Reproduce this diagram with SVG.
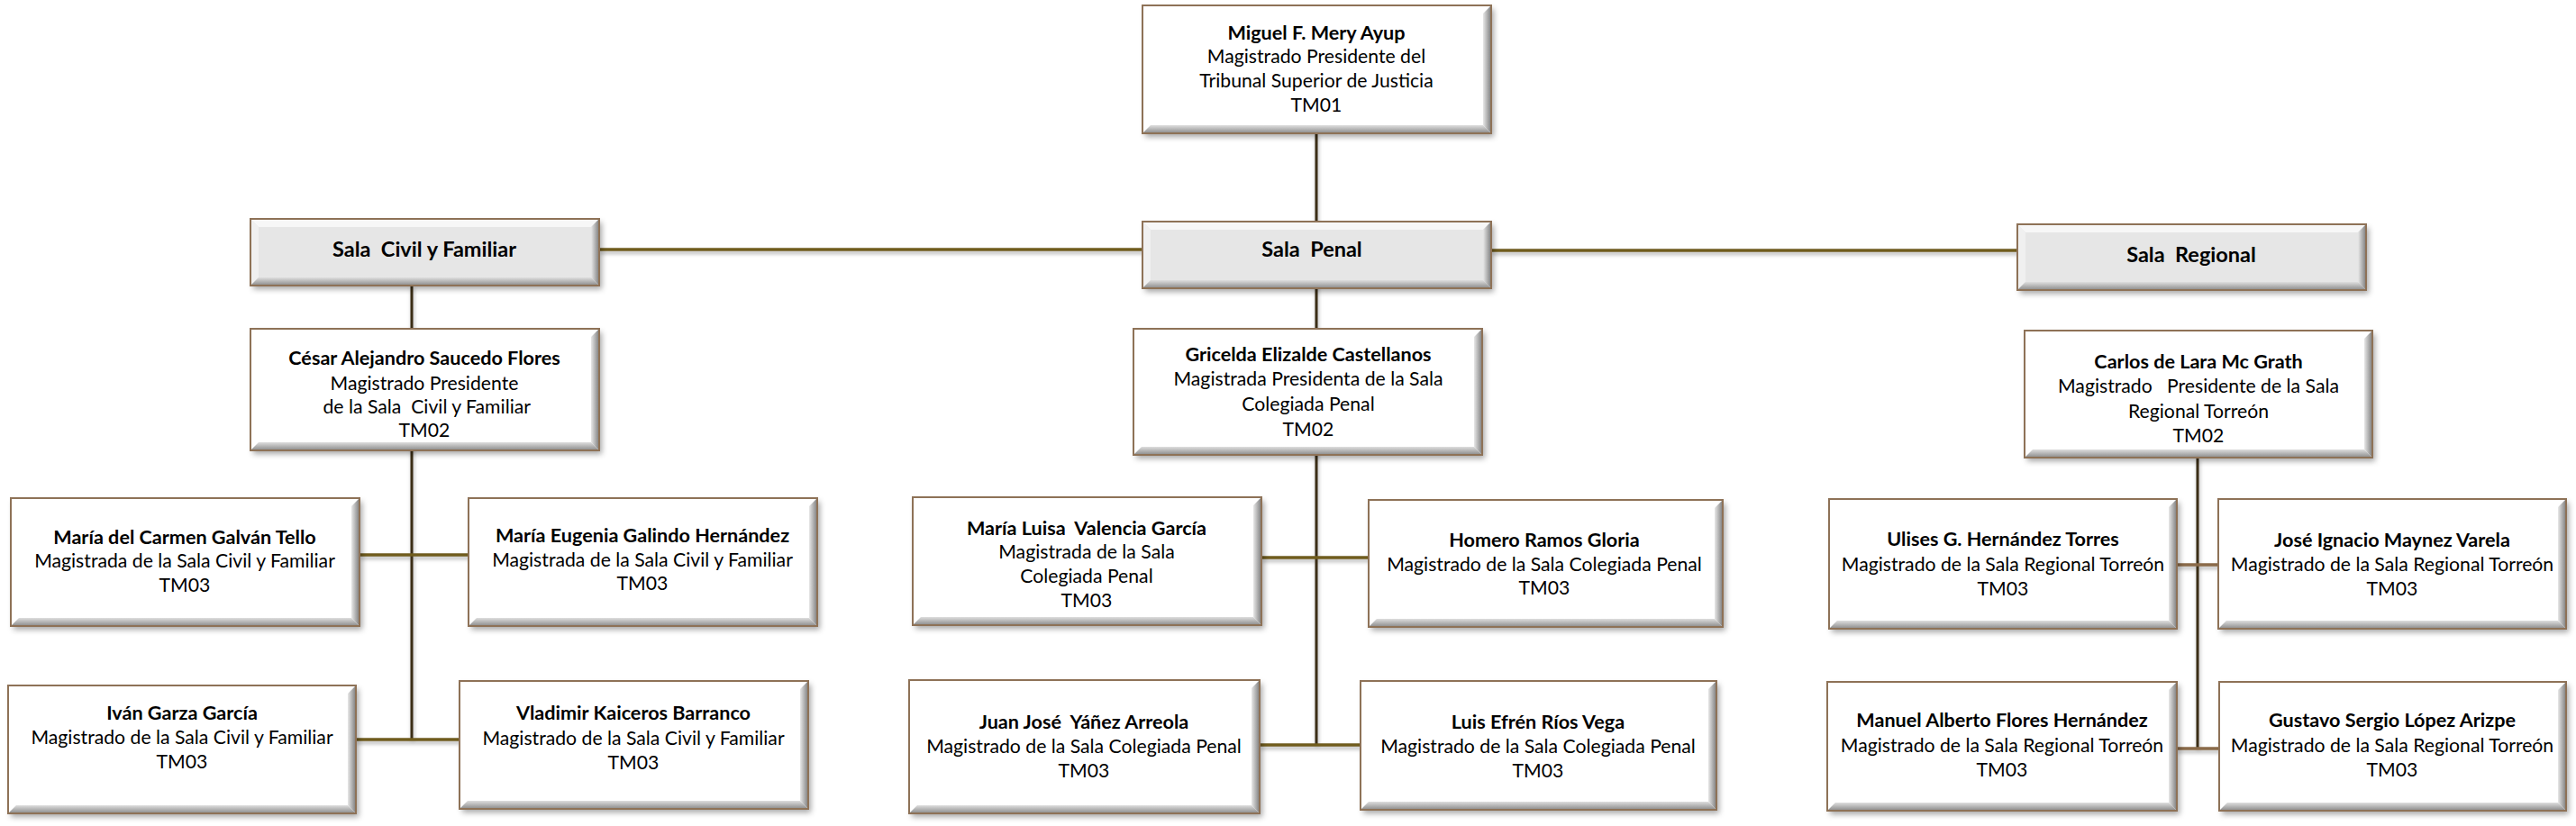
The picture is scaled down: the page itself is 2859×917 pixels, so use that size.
<svg xmlns="http://www.w3.org/2000/svg" width="2859" height="917" viewBox="0 0 2859 917">
<defs>
<filter id="sh" x="-5%" y="-10%" width="115%" height="130%">
<feDropShadow dx="3" dy="4" stdDeviation="3" flood-color="#000" flood-opacity="0.35"/>
</filter>
<filter id="lsh" x="-5%" y="-50%" width="110%" height="200%">
<feDropShadow dx="1" dy="3" stdDeviation="2" flood-color="#000" flood-opacity="0.3"/>
</filter>
<linearGradient id="gr" x1="0" y1="0" x2="1" y2="0">
<stop offset="0" stop-color="#e8e8e8"/><stop offset="1" stop-color="#7d7d7d"/>
</linearGradient>
<linearGradient id="gb" x1="0" y1="0" x2="0" y2="1">
<stop offset="0" stop-color="#dedede"/><stop offset="1" stop-color="#8a8a8a"/>
</linearGradient>
<style>
.bg{fill:#ffffff;filter:url(#sh)}
.sbg{fill:#e6e6e6;filter:url(#sh)}
.edge{fill:none;stroke:#8e7257;stroke-width:2}
.br{fill:url(#gr)}
.bb{fill:url(#gb)}
.bt{fill:#f7f7f7}
.bl{fill:#f0f0f0}
text{font-family:Lato,"Liberation Sans",sans-serif;font-size:21.2px;fill:#000;text-anchor:middle;white-space:pre}
.n{font-weight:700;font-size:21.6px}
.s{font-weight:700;font-size:23.5px}
.v{stroke:#3a2f14;stroke-width:3;fill:none}
.h{stroke:#6f5c1f;stroke-width:3.5;fill:none}
.hr{stroke:#8a6a48;stroke-width:3.5;fill:none}
</style>
</defs>
<rect width="2859" height="917" fill="#ffffff"/>

<g id="connectors">
<g filter="url(#lsh)">
<line class="v" x1="1461" y1="148" x2="1461" y2="827"/>
<line class="h" x1="665" y1="277" x2="1268" y2="277"/>
<line class="h" x1="1655" y1="278" x2="2239" y2="278"/>
<line class="v" x1="457" y1="317" x2="457" y2="821"/>
<line class="h" x1="399" y1="616" x2="520" y2="616"/>
<line class="h" x1="395" y1="821" x2="510" y2="821"/>
<line class="h" x1="1400" y1="619" x2="1519" y2="619"/>
<line class="h" x1="1398" y1="827" x2="1510" y2="827"/>
<line class="v" x1="2439" y1="508" x2="2439" y2="831"/>
<line class="hr" x1="2416" y1="627" x2="2462" y2="627"/>
<line class="hr" x1="2416" y1="831" x2="2463" y2="831"/>
</g>
</g>

<g id="n-top">
<rect class="bg" x="1268" y="6" width="387" height="142"/>
<path class="br" d="M1655,6 L1655,148 L1646,139 L1646,15 Z"/>
<path class="bb" d="M1268,148 L1655,148 L1646,139 L1277,139 Z"/>
<rect class="edge" x="1268" y="6" width="387" height="142"/>
<text class="n" x="1461" y="44">Miguel F. Mery Ayup</text>
<text x="1461" y="70">Magistrado Presidente del</text>
<text x="1461" y="97">Tribunal Superior de Justicia</text>
<text x="1461" y="124">TM01</text>
</g>

<g id="n-sala-civil">
<rect class="sbg" x="278" y="243" width="387" height="74"/>
<path class="bt" d="M278,243 L665,243 L656,252 L287,252 Z"/>
<path class="bl" d="M278,243 L287,252 L287,308 L278,317 Z"/>
<path class="br" d="M665,243 L665,317 L656,308 L656,252 Z"/>
<path class="bb" d="M278,317 L665,317 L656,308 L287,308 Z"/>
<rect class="edge" x="278" y="243" width="387" height="74"/>
<text class="s" x="471" y="285">Sala  Civil y Familiar</text>
</g>

<g id="n-sala-penal">
<rect class="sbg" x="1268" y="246" width="387" height="74"/>
<path class="bt" d="M1268,246 L1655,246 L1646,255 L1277,255 Z"/>
<path class="bl" d="M1268,246 L1277,255 L1277,311 L1268,320 Z"/>
<path class="br" d="M1655,246 L1655,320 L1646,311 L1646,255 Z"/>
<path class="bb" d="M1268,320 L1655,320 L1646,311 L1277,311 Z"/>
<rect class="edge" x="1268" y="246" width="387" height="74"/>
<text class="s" x="1456" y="285">Sala  Penal</text>
</g>

<g id="n-sala-regional">
<rect class="sbg" x="2239" y="249" width="387" height="73"/>
<path class="bt" d="M2239,249 L2626,249 L2617,258 L2248,258 Z"/>
<path class="bl" d="M2239,249 L2248,258 L2248,313 L2239,322 Z"/>
<path class="br" d="M2626,249 L2626,322 L2617,313 L2617,258 Z"/>
<path class="bb" d="M2239,322 L2626,322 L2617,313 L2248,313 Z"/>
<rect class="edge" x="2239" y="249" width="387" height="73"/>
<text class="s" x="2432" y="291">Sala  Regional</text>
</g>

<g id="n-cesar">
<rect class="bg" x="278" y="365" width="387" height="135"/>
<path class="br" d="M665,365 L665,500 L656,491 L656,374 Z"/>
<path class="bb" d="M278,500 L665,500 L656,491 L287,491 Z"/>
<rect class="edge" x="278" y="365" width="387" height="135"/>
<text class="n" x="471" y="405">César Alejandro Saucedo Flores</text>
<text x="471" y="433">Magistrado Presidente</text>
<text x="471" y="459"> de la Sala  Civil y Familiar</text>
<text x="471" y="485">TM02</text>
</g>

<g id="n-gricelda">
<rect class="bg" x="1258" y="365" width="387" height="140"/>
<path class="br" d="M1645,365 L1645,505 L1636,496 L1636,374 Z"/>
<path class="bb" d="M1258,505 L1645,505 L1636,496 L1267,496 Z"/>
<rect class="edge" x="1258" y="365" width="387" height="140"/>
<text class="n" x="1452" y="401">Gricelda Elizalde Castellanos</text>
<text x="1452" y="428">Magistrada Presidenta de la Sala</text>
<text x="1452" y="456">Colegiada Penal</text>
<text x="1452" y="484">TM02</text>
</g>

<g id="n-carlos">
<rect class="bg" x="2247" y="367" width="386" height="141"/>
<path class="br" d="M2633,367 L2633,508 L2624,499 L2624,376 Z"/>
<path class="bb" d="M2247,508 L2633,508 L2624,499 L2256,499 Z"/>
<rect class="edge" x="2247" y="367" width="386" height="141"/>
<text class="n" x="2440" y="409">Carlos de Lara Mc Grath</text>
<text x="2440" y="436">Magistrado   Presidente de la Sala</text>
<text x="2440" y="464">Regional Torreón</text>
<text x="2440" y="491">TM02</text>
</g>

<g id="n-maria-carmen">
<rect class="bg" x="12" y="553" width="387" height="142"/>
<path class="br" d="M399,553 L399,695 L390,686 L390,562 Z"/>
<path class="bb" d="M12,695 L399,695 L390,686 L21,686 Z"/>
<rect class="edge" x="12" y="553" width="387" height="142"/>
<text class="n" x="205" y="604">María del Carmen Galván Tello</text>
<text x="205" y="630">Magistrada de la Sala Civil y Familiar</text>
<text x="205" y="657">TM03</text>
</g>

<g id="n-maria-eugenia">
<rect class="bg" x="520" y="553" width="387" height="142"/>
<path class="br" d="M907,553 L907,695 L898,686 L898,562 Z"/>
<path class="bb" d="M520,695 L907,695 L898,686 L529,686 Z"/>
<rect class="edge" x="520" y="553" width="387" height="142"/>
<text class="n" x="713" y="602">María Eugenia Galindo Hernández</text>
<text x="713" y="629">Magistrada de la Sala Civil y Familiar</text>
<text x="713" y="655">TM03</text>
</g>

<g id="n-ivan">
<rect class="bg" x="9" y="761" width="386" height="142"/>
<path class="br" d="M395,761 L395,903 L386,894 L386,770 Z"/>
<path class="bb" d="M9,903 L395,903 L386,894 L18,894 Z"/>
<rect class="edge" x="9" y="761" width="386" height="142"/>
<text class="n" x="202" y="799">Iván Garza García</text>
<text x="202" y="826">Magistrado de la Sala Civil y Familiar</text>
<text x="202" y="853">TM03</text>
</g>

<g id="n-vladimir">
<rect class="bg" x="510" y="756" width="387" height="142"/>
<path class="br" d="M897,756 L897,898 L888,889 L888,765 Z"/>
<path class="bb" d="M510,898 L897,898 L888,889 L519,889 Z"/>
<rect class="edge" x="510" y="756" width="387" height="142"/>
<text class="n" x="703" y="799">Vladimir Kaiceros Barranco</text>
<text x="703" y="827">Magistrado de la Sala Civil y Familiar</text>
<text x="703" y="854">TM03</text>
</g>

<g id="n-maria-luisa">
<rect class="bg" x="1013" y="552" width="387" height="142"/>
<path class="br" d="M1400,552 L1400,694 L1391,685 L1391,561 Z"/>
<path class="bb" d="M1013,694 L1400,694 L1391,685 L1022,685 Z"/>
<rect class="edge" x="1013" y="552" width="387" height="142"/>
<text class="n" x="1206" y="594">María Luisa  Valencia García</text>
<text x="1206" y="620">Magistrada de la Sala</text>
<text x="1206" y="647">Colegiada Penal</text>
<text x="1206" y="674">TM03</text>
</g>

<g id="n-homero">
<rect class="bg" x="1519" y="555" width="393" height="141"/>
<path class="br" d="M1912,555 L1912,696 L1903,687 L1903,564 Z"/>
<path class="bb" d="M1519,696 L1912,696 L1903,687 L1528,687 Z"/>
<rect class="edge" x="1519" y="555" width="393" height="141"/>
<text class="n" x="1714" y="607">Homero Ramos Gloria</text>
<text x="1714" y="634">Magistrado de la Sala Colegiada Penal</text>
<text x="1714" y="660">TM03</text>
</g>

<g id="n-juan-jose">
<rect class="bg" x="1009" y="755" width="389" height="148"/>
<path class="br" d="M1398,755 L1398,903 L1389,894 L1389,764 Z"/>
<path class="bb" d="M1009,903 L1398,903 L1389,894 L1018,894 Z"/>
<rect class="edge" x="1009" y="755" width="389" height="148"/>
<text class="n" x="1203" y="809">Juan José  Yáñez Arreola</text>
<text x="1203" y="836">Magistrado de la Sala Colegiada Penal</text>
<text x="1203" y="863">TM03</text>
</g>

<g id="n-luis-efren">
<rect class="bg" x="1510" y="756" width="395" height="143"/>
<path class="br" d="M1905,756 L1905,899 L1896,890 L1896,765 Z"/>
<path class="bb" d="M1510,899 L1905,899 L1896,890 L1519,890 Z"/>
<rect class="edge" x="1510" y="756" width="395" height="143"/>
<text class="n" x="1707" y="809">Luis Efrén Ríos Vega</text>
<text x="1707" y="836">Magistrado de la Sala Colegiada Penal</text>
<text x="1707" y="863">TM03</text>
</g>

<g id="n-ulises">
<rect class="bg" x="2030" y="554" width="386" height="144"/>
<path class="br" d="M2416,554 L2416,698 L2407,689 L2407,563 Z"/>
<path class="bb" d="M2030,698 L2416,698 L2407,689 L2039,689 Z"/>
<rect class="edge" x="2030" y="554" width="386" height="144"/>
<text class="n" x="2223" y="606">Ulises G. Hernández Torres</text>
<text x="2223" y="634">Magistrado de la Sala Regional Torreón</text>
<text x="2223" y="661">TM03</text>
</g>

<g id="n-jose-ignacio">
<rect class="bg" x="2462" y="554" width="386" height="144"/>
<path class="br" d="M2848,554 L2848,698 L2839,689 L2839,563 Z"/>
<path class="bb" d="M2462,698 L2848,698 L2839,689 L2471,689 Z"/>
<rect class="edge" x="2462" y="554" width="386" height="144"/>
<text class="n" x="2655" y="607">José Ignacio Maynez Varela</text>
<text x="2655" y="634">Magistrado de la Sala Regional Torreón</text>
<text x="2655" y="661">TM03</text>
</g>

<g id="n-manuel">
<rect class="bg" x="2028" y="757" width="388" height="143"/>
<path class="br" d="M2416,757 L2416,900 L2407,891 L2407,766 Z"/>
<path class="bb" d="M2028,900 L2416,900 L2407,891 L2037,891 Z"/>
<rect class="edge" x="2028" y="757" width="388" height="143"/>
<text class="n" x="2222" y="807">Manuel Alberto Flores Hernández</text>
<text x="2222" y="835">Magistrado de la Sala Regional Torreón</text>
<text x="2222" y="862">TM03</text>
</g>

<g id="n-gustavo">
<rect class="bg" x="2463" y="757" width="385" height="143"/>
<path class="br" d="M2848,757 L2848,900 L2839,891 L2839,766 Z"/>
<path class="bb" d="M2463,900 L2848,900 L2839,891 L2472,891 Z"/>
<rect class="edge" x="2463" y="757" width="385" height="143"/>
<text class="n" x="2655" y="807">Gustavo Sergio López Arizpe</text>
<text x="2655" y="835">Magistrado de la Sala Regional Torreón</text>
<text x="2655" y="862">TM03</text>
</g>
</svg>
